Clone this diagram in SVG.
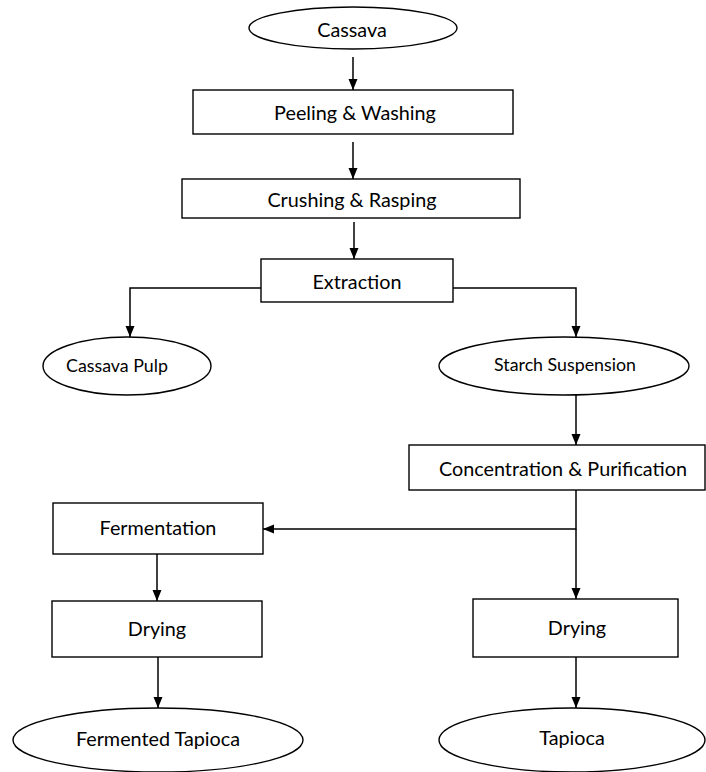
<svg xmlns="http://www.w3.org/2000/svg" width="706" height="772" viewBox="0 0 706 772">
<style>
  .box { fill: #ffffff; stroke: #000000; stroke-width: 1.4; }
  .lbl { font-family: Lato, "Liberation Sans", sans-serif; font-size: 19.8px; fill: #000000; text-anchor: middle; dominant-baseline: central; }
  .sm { font-size: 17.8px; }
  .edge { fill: none; stroke: #000000; stroke-width: 1.5; marker-end: url(#arr); }
</style>
<defs>
  <marker id="arr" viewBox="0 0 11 10" refX="11" refY="5" markerWidth="11" markerHeight="10" markerUnits="userSpaceOnUse" orient="auto">
    <path d="M0,0.5 L11,5 L0,9.5 Z" fill="#000000"/>
  </marker>
</defs>
<rect width="706" height="772" fill="#ffffff"/>
<g id="connectors">
  <path class="edge" d="M353,57 V90"/>
  <path class="edge" d="M353,142 V179"/>
  <path class="edge" d="M354,222 V259"/>
  <path class="edge" d="M261,288 H130 V337"/>
  <path class="edge" d="M453,288 H576 V337"/>
  <path class="edge" d="M576,395 V445"/>
  <path class="edge" d="M576,490 V529 H263"/>
  <path class="edge" d="M576,529 V599"/>
  <path class="edge" d="M157,552 V601"/>
  <path class="edge" d="M158,657 V708"/>
  <path class="edge" d="M576,657 V708"/>
</g>
<g id="cassava">
  <ellipse class="box" cx="353" cy="28" rx="104" ry="21"/>
  <text class="lbl" x="352" y="29">Cassava</text>
</g>
<g id="peeling">
  <rect class="box" x="193" y="90" width="320" height="44"/>
  <text class="lbl" x="355" y="112">Peeling &amp; Washing</text>
</g>
<g id="crushing">
  <rect class="box" x="182" y="179" width="338" height="39"/>
  <text class="lbl" x="352" y="199">Crushing &amp; Rasping</text>
</g>
<g id="extraction">
  <rect class="box" x="261" y="259" width="192" height="43"/>
  <text class="lbl" x="357" y="281">Extraction</text>
</g>
<g id="cassava-pulp">
  <ellipse class="box" cx="127" cy="366" rx="84" ry="29"/>
  <text class="lbl sm" x="117" y="365">Cassava Pulp</text>
</g>
<g id="starch-suspension">
  <ellipse class="box" cx="564" cy="366" rx="125" ry="29"/>
  <text class="lbl sm" x="565" y="364">Starch Suspension</text>
</g>
<g id="concentration">
  <rect class="box" x="409" y="445" width="296" height="45"/>
  <text class="lbl" x="563" y="468">Concentration &amp; Purification</text>
</g>
<g id="fermentation">
  <rect class="box" x="53" y="503" width="210" height="51"/>
  <text class="lbl" x="158" y="527">Fermentation</text>
</g>
<g id="drying-left">
  <rect class="box" x="52" y="601" width="210" height="56"/>
  <text class="lbl" x="157" y="628">Drying</text>
</g>
<g id="drying-right">
  <rect class="box" x="473" y="599" width="205" height="58"/>
  <text class="lbl" x="577" y="627">Drying</text>
</g>
<g id="fermented-tapioca">
  <ellipse class="box" cx="158" cy="740" rx="145" ry="32"/>
  <text class="lbl" x="158" y="738">Fermented Tapioca</text>
</g>
<g id="tapioca">
  <ellipse class="box" cx="572" cy="740" rx="133" ry="32"/>
  <text class="lbl" x="572" y="737">Tapioca</text>
</g>
</svg>
